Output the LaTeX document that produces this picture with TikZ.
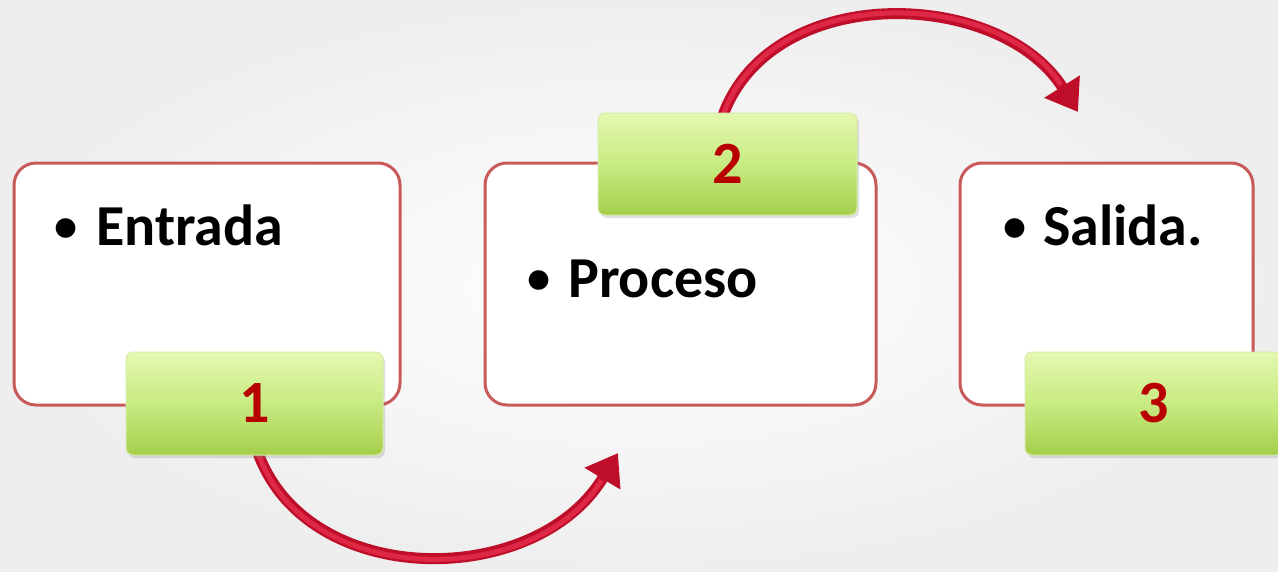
\documentclass[tikz,border=0pt]{standalone}
\usepackage{fontspec}
\setmainfont{Carlito}
\usetikzlibrary{arrows.meta,shadows}
\definecolor{bgout}{RGB}{238,238,238}
\definecolor{boxline}{RGB}{200,90,90}
\definecolor{gtop}{RGB}{228,248,175}
\definecolor{gmid}{RGB}{200,235,130}
\definecolor{gbot}{RGB}{165,206,75}
\definecolor{gline}{RGB}{215,235,170}
\definecolor{numred}{RGB}{185,0,0}
\definecolor{arrred}{RGB}{190,14,42}
\definecolor{arrhi}{RGB}{222,40,70}
\newcommand{\mybul}[1]{\makebox[#1][l]{\raisebox{3.5pt}{\scalebox{0.8}{•}}}}
\tikzset{
  whitebox/.style={draw=boxline, line width=3pt, fill=white, rounded corners=22pt, inner sep=0pt},
  greenbox/.style={draw=gline, line width=1pt, rounded corners=7pt, inner sep=0pt,
    top color=gtop, bottom color=gbot, middle color=gmid,
    drop shadow={opacity=0.25, shadow xshift=2pt, shadow yshift=-3pt},
    font=\bfseries\fontsize{60}{60}\selectfont, text=numred},
  label/.style={anchor=base west, inner sep=0pt, font=\bfseries\fontsize{58}{58}\selectfont},
  bigarrow/.style={draw=arrred, line width=11pt, -{Triangle[length=30pt,width=40pt]}},
  arrowhi/.style={draw=arrhi, line width=5pt, shorten >=32pt, shorten <=2pt}
}
\begin{document}
\begin{tikzpicture}[x=1pt,y=-1pt]
\useasboundingbox (0,0) rectangle (1278,571);
\shade[inner color=white, outer color=bgout] (0,0) rectangle (1278,571);
% white boxes
\node[whitebox, minimum width=386pt, minimum height=242pt] (boxA) at (207,284) {};
\node[whitebox, minimum width=391pt, minimum height=242pt] (boxB) at (680.5,284) {};
\node[whitebox, minimum width=293pt, minimum height=242pt] (boxC) at (1106.5,284) {};
% texts
\node[label] (tA) at (54,245) {\mybul{42pt}Entrada};
\node[label] (tB) at (527,297) {\mybul{41pt}Proceso};
\node[label] (tC) at (1003,245) {\mybul{40pt}Salida.};
% arrows endpoints
\coordinate (a1s) at (257,450);
\coordinate (a1e) at (618,453);
\coordinate (a2s) at (722,118);
\coordinate (a2e) at (1078,112);
\draw[bigarrow] (a1s) .. controls (305,590) and (535,590) .. (a1e);
\draw[arrowhi] (a1s) .. controls (305,590) and (535,590) .. (a1e);
\draw[bigarrow] (a2s) .. controls (770,-20) and (1000,-12) .. (a2e);
\draw[arrowhi] (a2s) .. controls (770,-20) and (1000,-12) .. (a2e);
% green boxes
\node[greenbox, minimum width=257pt, minimum height=103pt] (g1) at (254.5,403.5) {1};
\node[greenbox, minimum width=259pt, minimum height=102pt] (g2) at (727.5,164) {2};
\node[greenbox, minimum width=258pt, minimum height=103pt] (g3) at (1154,403.5) {3};
\end{tikzpicture}
\end{document}
